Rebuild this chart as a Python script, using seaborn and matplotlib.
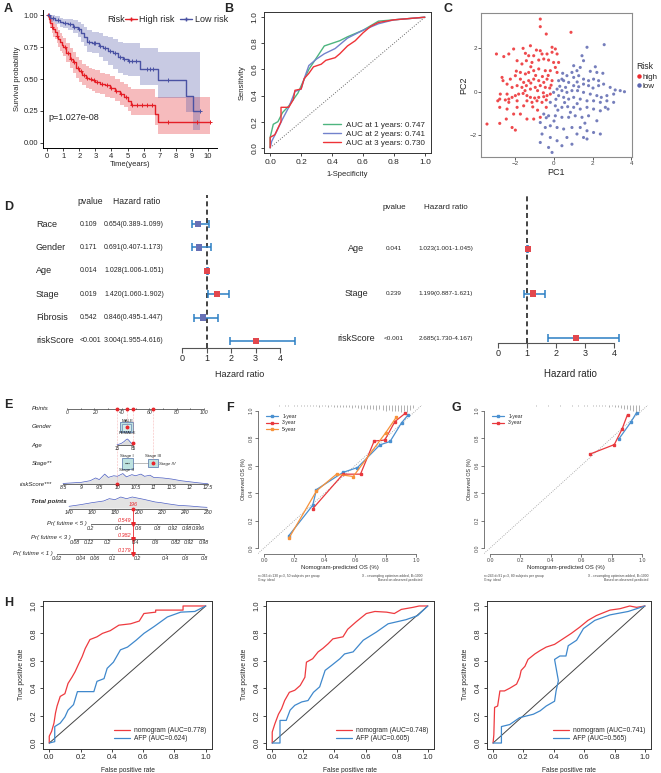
import numpy as np
import pandas as pd
import matplotlib
matplotlib.use("Agg")
import matplotlib.pyplot as plt
import matplotlib.transforms as mtransforms
from matplotlib.lines import Line2D
from matplotlib.patches import Rectangle
import seaborn as sns

sns.set_style("white")
plt.rcParams['font.family'] = ['Liberation Sans', 'DejaVu Sans']

# ===================== DATA =====================
# --- A: Kaplan-Meier ---
high_t = [0,0.1,0.2,0.3,0.4,0.5,0.6,0.7,0.8,0.9,1.0,1.2,1.4,1.6,1.8,2.0,2.2,2.4,2.6,2.8,3.0,3.3,3.6,3.9,4.2,4.5,4.8,5.0,5.2,6.7,6.9]
high_s = [1.0,0.97,0.94,0.91,0.89,0.87,0.84,0.81,0.79,0.77,0.75,0.70,0.66,0.63,0.59,0.56,0.53,0.51,0.50,0.49,0.48,0.46,0.45,0.43,0.41,0.38,0.36,0.33,0.30,0.23,0.16]
high_hi = [1.0,1.0,0.99,0.97,0.95,0.93,0.91,0.88,0.86,0.84,0.82,0.78,0.74,0.71,0.67,0.65,0.62,0.60,0.59,0.58,0.57,0.55,0.54,0.52,0.50,0.48,0.46,0.44,0.42,0.36,0.36]
high_lo = [1.0,0.94,0.90,0.86,0.83,0.81,0.78,0.75,0.72,0.70,0.68,0.63,0.59,0.55,0.51,0.48,0.45,0.43,0.42,0.41,0.39,0.38,0.36,0.35,0.33,0.30,0.28,0.25,0.22,0.14,0.07]
high_end = 10.1
high_cens = [0.05,0.3,0.6,1.1,1.3,1.5,1.7,1.9,2.1,2.3,2.5,2.7,2.9,3.1,3.4,3.7,4.0,4.3,4.6,4.9,5.3,5.6,5.9,6.2,6.5,7.5,9.3,10.1]
low_t = [0,0.2,0.5,0.8,1.0,1.3,1.6,1.9,2.1,2.3,2.5,2.8,3.2,3.5,3.8,4.1,4.4,4.7,5.0,5.8,6.9,8.6,9.05]
low_s = [1.0,0.98,0.96,0.95,0.94,0.93,0.91,0.89,0.86,0.83,0.79,0.78,0.76,0.74,0.72,0.70,0.67,0.66,0.64,0.58,0.49,0.37,0.25]
low_hi = [1.0,1.0,0.99,0.98,0.97,0.97,0.96,0.95,0.93,0.91,0.88,0.87,0.86,0.84,0.83,0.81,0.79,0.78,0.78,0.74,0.71,0.71,0.71]
low_lo = [1.0,0.95,0.93,0.91,0.90,0.88,0.86,0.83,0.79,0.76,0.71,0.70,0.67,0.64,0.61,0.58,0.55,0.53,0.52,0.45,0.35,0.24,0.10]
low_end = 9.5
low_cens = [0.1,0.4,0.7,1.1,1.4,1.7,2.0,2.6,2.9,3.0,3.3,3.6,3.9,4.2,4.5,4.8,5.1,5.3,5.5,6.2,6.4,6.6,7.5,9.5]
km_pvalue = "p=1.027e-08"

# --- B: time-dependent ROC ---
roc1_fpr = [0,0,0.02,0.05,0.08,0.12,0.15,0.18,0.21,0.25,0.30,0.35,0.40,0.45,0.50,0.60,0.70,0.80,1.0]
roc1_tpr = [0,0.08,0.18,0.20,0.27,0.32,0.37,0.42,0.50,0.60,0.69,0.78,0.80,0.82,0.85,0.90,0.97,0.98,1.0]
roc2_fpr = [0,0.01,0.04,0.08,0.12,0.16,0.20,0.22,0.25,0.30,0.35,0.42,0.50,0.60,0.70,0.80,1.0]
roc2_tpr = [0,0.05,0.12,0.22,0.31,0.43,0.45,0.53,0.63,0.68,0.72,0.76,0.84,0.90,0.95,0.98,1.0]
roc3_fpr = [0,0,0.03,0.05,0.07,0.07,0.12,0.15,0.16,0.20,0.22,0.25,0.28,0.33,0.36,0.42,0.45,0.50,0.55,0.60,0.65,0.70,0.80,0.90,1.0]
roc3_tpr = [0,0.08,0.10,0.15,0.20,0.31,0.31,0.37,0.44,0.45,0.53,0.57,0.62,0.64,0.67,0.69,0.72,0.78,0.82,0.88,0.93,0.96,0.98,0.99,1.0]
roc_labels = ["AUC at 1 years: 0.747", "AUC at 2 years: 0.741", "AUC at 3 years: 0.730"]

# --- C: PCA ---
pca_high = [(-0.71,3.35),(-0.71,3.00),(-0.40,2.66),(0.88,2.74),(-2.98,1.74),(-2.60,1.62),(-2.34,1.74),(-2.09,1.97),
            (-1.60,2.00),(-1.22,2.12),(-0.91,1.92),(-0.71,1.89),(-0.10,2.05),(0.07,1.97),(-1.48,1.77),(-1.31,1.66),
            (-1.05,1.66),(-0.62,1.74),(-0.36,1.74),(-0.10,1.82),(0.16,1.74),(-1.91,1.43),(-1.66,1.28),(-1.43,1.43),
            (-1.14,1.35),(-0.79,1.46),(-0.53,1.51),(-0.28,1.46),(-0.02,1.35),(0.24,1.35),(-2.69,0.66),(-2.64,0.51),
            (-2.43,0.35),(-2.26,0.58),(-2.00,0.74),(-1.74,0.89),(-1.48,0.82),(-1.31,0.89),(-1.05,0.97),(-0.79,1.05),
            (-0.45,0.97),(-0.19,0.97),(0.07,1.12),(0.16,0.89),(-1.74,0.58),(-1.57,0.43),(-1.31,0.51),(-1.05,0.58),
            (-0.79,0.51),(-0.53,0.43),(-0.36,0.58),(-0.10,0.51),(-2.17,0.20),(-1.91,0.28),(-1.66,0.20),(-1.43,0.28),
            (-1.22,0.12),(-0.97,0.20),(-0.71,0.28),(-0.45,0.20),(-0.22,0.17),(-2.43,-0.11),(-2.34,-0.34),(-2.17,-0.26),
            (-2.00,-0.18),(-1.83,-0.11),(-1.60,-0.08),(-1.40,-0.18),(-1.22,-0.26),(-1.00,-0.29),(-0.79,-0.26),(-0.53,-0.23),
            (-0.36,-0.18),(-0.19,-0.11),(-2.78,-0.11),(-2.81,-0.34),(-2.91,-0.42),(-2.52,-0.38),(-2.34,-0.49),(-1.91,-0.72),
            (-1.57,-0.65),(-1.40,-0.42),(-1.14,-0.49),(-0.88,-0.42),(-0.62,-0.49),(-0.40,-0.38),(-1.91,-0.42),(-2.81,-0.72),
            (-2.43,-0.80),(-2.09,-1.03),(-1.74,-1.03),(-1.40,-1.26),(-1.05,-1.26),(-0.71,-1.18),(-0.40,-0.72),(-2.47,-1.26),
            (-2.81,-1.46),(-3.47,-1.49),(-2.17,-1.65),(-2.00,-1.77),(-1.20,0.40),(-0.95,0.75),(-0.60,0.70),(-1.50,0.05),
            (-0.85,0.05),(-0.55,-0.05),(-1.10,-0.70),(-0.85,-0.85),(-1.95,0.95),(-1.20,1.15),(-0.30,0.75),(-0.15,0.30)]
pca_low = [(1.71,2.05),(2.60,2.17),(1.45,1.66),(1.53,1.43),(2.14,1.15),(1.88,0.94),(2.22,0.89),(2.53,0.85),
           (1.02,1.20),(1.19,0.97),(1.36,1.12),(0.93,0.89),(0.67,0.74),(0.41,0.58),(0.24,0.51),(0.50,0.51),
           (0.76,0.43),(1.02,0.66),(1.28,0.74),(1.53,0.58),(1.79,0.51),(2.05,0.58),(2.31,0.51),(1.02,0.28),
           (1.28,0.23),(1.53,0.35),(1.79,0.28),(2.02,0.17),(2.31,0.28),(2.57,0.35),(2.91,0.20),(3.17,0.08),
           (3.43,0.05),(3.65,0.00),(3.09,-0.11),(2.74,-0.18),(2.45,-0.26),(2.22,-0.18),(1.88,-0.11),(1.53,-0.03),
           (1.22,0.05),(0.93,0.05),(0.67,-0.03),(0.41,0.05),(0.16,0.12),(-0.02,-0.03),(0.24,-0.18),(0.50,-0.26),
           (0.76,-0.34),(1.02,-0.26),(1.36,-0.34),(1.71,-0.42),(2.05,-0.42),(2.40,-0.49),(2.74,-0.42),(3.09,-0.49),
           (-0.19,-0.49),(0.07,-0.65),(0.41,-0.72),(0.71,-0.69),(1.02,-0.72),(1.36,-0.80),(1.71,-0.72),(2.05,-0.80),
           (2.40,-0.88),(2.66,-0.72),(-0.53,-1.03),(-0.28,-1.11),(0.07,-1.11),(0.41,-1.18),(0.76,-1.18),(1.10,-1.11),
           (1.45,-1.18),(1.79,-1.11),(2.22,-1.34),(-0.71,-1.42),(-0.45,-1.65),(-0.19,-1.57),(0.16,-1.65),(0.50,-1.72),
           (0.93,-1.65),(1.36,-1.65),(1.71,-1.80),(2.05,-1.88),(2.40,-1.95),(-0.62,-1.95),(-0.19,-2.11),(0.16,-2.26),
           (0.67,-2.11),(1.19,-1.95),(1.53,-2.11),(-0.71,-2.34),(-0.28,-2.57),(-0.10,-2.80),(0.41,-2.49),(0.93,-2.42),
           (1.71,-2.18),(0.30,0.25),(0.60,0.20),(0.10,-0.35),(0.55,-0.50),(1.20,-0.55),(0.20,-0.85),(0.85,-0.95),
           (1.20,0.45),(0.45,0.85),(2.80,-0.80),(1.60,-1.45),(0.00,-1.35),(-0.40,-1.20)]

# --- D: forest plots ---
uni_vars = ["Race", "Gender", "Age", "Stage", "Fibrosis", "riskScore"]
uni_p = ["0.109", "0.171", "0.014", "0.019", "0.542", "<0.001"]
uni_hr = [0.654, 0.691, 1.028, 1.420, 0.846, 3.004]
uni_lo = [0.389, 0.407, 1.006, 1.060, 0.495, 1.955]
uni_hi = [1.099, 1.173, 1.051, 1.902, 1.447, 4.616]
multi_vars = ["Age", "Stage", "riskScore"]
multi_p = ["0.041", "0.239", "<0.001"]
multi_hr = [1.023, 1.199, 2.685]
multi_lo = [1.001, 0.887, 1.730]
multi_hi = [1.045, 1.621, 4.167]
hr_ticks = [0, 1, 2, 3, 4]

# --- E: nomogram ---
points_ticks = [0, 20, 40, 60, 80, 100]
gender_pts = {"FEMALE": 40.5, "MALE": 44.0}
age_range = [15, 85]
age_pts_range = [36.5, 48.2]
age_dens_x = [15, 25, 35, 45, 55, 60, 65, 75, 85]
age_dens_h = [0.05, 0.15, 0.30, 0.55, 0.90, 1.00, 0.85, 0.40, 0.10]
stage_pts = {"Stage I": 41.0, "Stage II": 46.0, "Stage III": 62.8, "Stage IV": 65.5}
risk_ticks = [8.5, 9, 9.5, 10, 10.5, 11, 11.5, 12, 12.5]
risk_pts_per_unit = 26.45
risk_zero = 8.61
risk_dens_x = [8.5, 8.75, 9.0, 9.25, 9.4, 9.5, 9.65, 9.75, 9.9, 10.0, 10.15, 10.25, 10.4, 10.5, 10.65, 10.75, 10.9, 11.0, 11.25, 11.5, 11.75, 12.0, 12.25, 12.5]
risk_dens_h = [0.05, 0.10, 0.15, 0.30, 0.55, 0.40, 0.90, 0.60, 0.75, 0.70, 0.95, 0.65, 0.85, 0.75, 0.90, 0.70, 0.80, 0.60, 0.55, 0.45, 0.30, 0.20, 0.10, 0.02]
total_ticks = [140, 160, 180, 200, 220, 240, 260]
total_dens_x = [140, 150, 160, 170, 175, 180, 185, 190, 195, 205, 215, 220, 225, 235, 245, 255, 260]
total_dens_h = [5, 10, 16, 21, 28, 25, 33, 28, 33, 26, 18, 16, 13, 8, 6, 3, 2]
patient = {"riskScore": 10.0, "Gender": "MALE", "Age": 85, "Stage": "Stage III"}
total_value = 196
pr_labels = ["Pr( futime < 5 )", "Pr( futime < 3 )", "Pr( futime < 1 )"]
pr_at_total = [0.549, 0.382, 0.179]
pr_ticks = [[0.2, 0.4, 0.6, 0.8, 0.92, 0.98, 0.996],
            [0.08, 0.12, 0.2, 0.4, 0.6, 0.82, 0.92, 0.98],
            [0.02, 0.04, 0.06, 0.1, 0.2, 0.4, 0.6, 0.8]]
pts_per_cloglog = 29.3

# --- F / G: calibration ---
f1_x = [0.163, 0.32, 0.345, 0.52, 0.615, 0.763, 0.83, 0.905, 0.95]
f1_y = [0.09, 0.31, 0.425, 0.55, 0.585, 0.75, 0.775, 0.91, 0.97]
f3_x = [0.32, 0.52, 0.635, 0.725, 0.795, 0.862, 0.93]
f3_y = [0.285, 0.537, 0.537, 0.778, 0.785, 0.92, 0.98]
f5_x = [0.163, 0.345, 0.477, 0.587, 0.80, 0.87]
f5_y = [0.07, 0.415, 0.537, 0.52, 0.837, 0.95]
f_rug_x = list(np.round(np.arange(0.10, 0.99, 0.02), 2))
f_rug_n = [1,0,1,1,0,2,1,1,2,1,2,2,1,3,2,2,3,2,3,3,4,3,4,4,5,4,5,6,5,6,7,6,8,7,8,9,8,10,9,10,11,10,12,8,5]
g1_x = [0.85, 0.927, 0.965]
g1_y = [0.796, 0.915, 0.985]
g3_x = [0.66, 0.818, 0.868, 0.905]
g3_y = [0.684, 0.752, 0.862, 0.97]
g_rug_x = list(np.round(np.arange(0.30, 0.99, 0.02), 2))
g_rug_n = [1,0,0,0,1,0,0,0,1,0,0,0,1,0,1,0,1,1,0,1,1,2,1,2,3,2,3,4,5,6,7,8,10,12,9]

# --- H: ROC nomogram vs AFP ---
h1_nom_fpr = [0,0,0.015,0.03,0.04,0.05,0.07,0.10,0.12,0.145,0.165,0.185,0.21,0.23,0.26,0.305,0.34,0.39,0.445,0.52,0.575,0.605,0.68,0.68,0.855,0.855,1.0]
h1_nom_tpr = [0,0.05,0.085,0.145,0.22,0.27,0.34,0.36,0.435,0.48,0.52,0.57,0.63,0.69,0.755,0.775,0.80,0.82,0.86,0.87,0.89,0.945,0.955,0.97,0.97,1.0,1.0]
h1_afp_fpr = [0,0.035,0.035,0.07,0.10,0.12,0.155,0.18,0.285,0.305,0.35,0.37,0.41,0.455,0.50,0.555,0.605,0.67,0.755,0.84,0.93,1.0]
h1_afp_tpr = [0,0.01,0.12,0.145,0.19,0.24,0.28,0.375,0.375,0.45,0.47,0.545,0.59,0.68,0.70,0.75,0.80,0.85,0.92,0.955,0.96,1.0]
h2_nom_fpr = [0,0,0.017,0.04,0.06,0.08,0.11,0.145,0.18,0.21,0.22,0.26,0.295,0.325,0.36,0.39,0.455,0.485,0.54,0.605,0.66,0.735,0.785,0.83,0.905,0.945,1.0]
h2_nom_tpr = [0,0.08,0.14,0.21,0.25,0.31,0.37,0.385,0.42,0.48,0.59,0.615,0.665,0.69,0.725,0.76,0.775,0.83,0.885,0.945,0.96,0.955,0.945,0.975,0.99,1.0,1.0]
h2_afp_fpr = [0,0.05,0.05,0.09,0.115,0.145,0.19,0.23,0.265,0.305,0.34,0.38,0.435,0.465,0.52,0.585,0.67,0.745,0.86,0.935,1.0]
h2_afp_tpr = [0,0,0.165,0.165,0.24,0.275,0.30,0.31,0.37,0.41,0.53,0.565,0.615,0.65,0.665,0.75,0.81,0.87,0.90,0.93,1.0]
h3_nom_fpr = [0,0.005,0.01,0.03,0.045,0.075,0.11,0.155,0.175,0.185,0.21,0.23,0.275,0.31,0.35,0.405,0.46,0.515,0.57,0.625,0.68,0.77,0.835,0.9,0.945,1.0]
h3_nom_tpr = [0,0.06,0.26,0.27,0.38,0.38,0.40,0.43,0.48,0.53,0.56,0.61,0.65,0.675,0.70,0.72,0.76,0.80,0.845,0.895,0.93,0.97,0.98,1.0,0.99,1.0]
h3_afp_fpr = [0,0.055,0.055,0.11,0.175,0.265,0.31,0.35,0.405,0.415,0.43,0.405,0.44,0.48,0.495,0.55,0.595,0.67,0.77,0.89,1.0]
h3_afp_tpr = [0,0,0.12,0.135,0.185,0.21,0.235,0.27,0.305,0.38,0.455,0.61,0.635,0.635,0.71,0.75,0.835,0.895,0.935,0.96,1.0]
h_auc_nom = ["0.778", "0.748", "0.741"]
h_auc_afp = ["0.624", "0.605", "0.565"]

# ===================== FIGURE =====================
W, H = 661, 773
fig = plt.figure(figsize=(W / 100, H / 100), dpi=100)


def add_ax(l, t, r, b):
    return fig.add_axes([l / W, 1 - b / H, (r - l) / W, (b - t) / H])


def ftext(x, y, s, **kw):
    return fig.text(x / W, 1 - y / H, s, **kw)


def r_yticks(ax):
    for lb in ax.get_yticklabels():
        lb.set_rotation(90)
        lb.set_va('center')


for lab, (x, y) in {"A": (4, 9), "B": (224, 9), "C": (443, 9), "D": (4, 207),
                    "E": (4, 405), "F": (226, 408), "G": (452, 408), "H": (4, 603)}.items():
    ftext(x, y, lab, fontsize=9, fontweight='bold', va='center')

# ---------------- A ----------------
RED_A, BLUE_A = '#E41E26', '#4A52A3'
axA = add_ax(43, 10, 217, 148)


def km_draw(ax, t, s, lo, hi, tend, cens, color):
    t = np.asarray(t, float); s = np.asarray(s, float)
    tt = np.append(t, tend)
    ss = np.append(s, s[-1]); ll = np.append(lo, lo[-1]); hh = np.append(hi, hi[-1])
    ax.fill_between(tt, ll, hh, step='post', color=color, alpha=0.3, lw=0)
    ax.step(tt, ss, where='post', color=color, lw=1.0)
    idx = np.searchsorted(t, cens, side='right') - 1
    ax.plot(cens, s[idx], '+', color=color, ms=3.2, mew=0.7)


km_draw(axA, high_t, high_s, high_lo, high_hi, high_end, high_cens, RED_A)
km_draw(axA, low_t, low_s, low_lo, low_hi, low_end, low_cens, BLUE_A)
axA.set_xlim(-0.25, 10.55)
axA.set_ylim(-0.04, 1.04)
axA.set_xticks(range(0, 11))
axA.set_yticks([0, 0.25, 0.5, 0.75, 1.0])
axA.set_yticklabels(["0.00", "0.25", "0.50", "0.75", "1.00"])
axA.tick_params(labelsize=5.5, length=2, width=0.6, pad=1.5, left=True, bottom=True)
for sp in ['top', 'right']:
    axA.spines[sp].set_visible(False)
for sp in ['left', 'bottom']:
    axA.spines[sp].set_linewidth(0.7); axA.spines[sp].set_color('black')
axA.set_xlabel("Time(years)", fontsize=5.5, labelpad=1)
axA.set_ylabel("Survival probability", fontsize=5.5, labelpad=2)
axA.text(0.1, 0.2, km_pvalue, fontsize=6.5, va='center')
ftext(107, 20, "Risk", fontsize=6.5, va='center')
hA = [Line2D([0], [0], color=RED_A, lw=1, marker='+', ms=3.5),
      Line2D([0], [0], color=BLUE_A, lw=1, marker='+', ms=3.5)]
fig.legend(hA, ["High risk", "Low risk"], loc='center left', bbox_to_anchor=(125 / W, 1 - 20 / H),
           ncol=2, fontsize=6.5, frameon=False, handlelength=1.3, handletextpad=0.3,
           columnspacing=0.6, borderpad=0, borderaxespad=0)

# ---------------- B ----------------
axB = add_ax(264, 12, 431, 153)
axB.plot([0, 1], [0, 1], ls=':', color='#666666', lw=0.7)
for fx, fy, c, lb in [(roc1_fpr, roc1_tpr, '#4DB57F', roc_labels[0]),
                      (roc2_fpr, roc2_tpr, '#7282CC', roc_labels[1]),
                      (roc3_fpr, roc3_tpr, '#EE3338', roc_labels[2])]:
    sns.lineplot(x=fx, y=fy, ax=axB, color=c, lw=1.0, sort=False, estimator=None, label=lb)
axB.set_xlim(-0.04, 1.04); axB.set_ylim(-0.04, 1.04)
axB.set_xticks(np.arange(0, 1.01, 0.2)); axB.set_yticks(np.arange(0, 1.01, 0.2))
axB.tick_params(labelsize=6, length=2.5, width=0.6, pad=1.5, left=True, bottom=True)
r_yticks(axB)
for sp in axB.spines.values():
    sp.set_linewidth(0.7); sp.set_color('#333333')
axB.set_xlabel("1-Specificity", fontsize=5.5, labelpad=4)
axB.set_ylabel("Sensitivity", fontsize=5.5, labelpad=4)
axB.legend(loc='lower right', fontsize=5.8, frameon=False, handlelength=2.2, handletextpad=0.6,
           labelspacing=0.15, borderaxespad=0.4)

# ---------------- C ----------------
axC = add_ax(481, 13, 632, 157)
dfC = pd.DataFrame([(x, y, 'high') for x, y in pca_high] + [(x, y, 'low') for x, y in pca_low],
                   columns=['PC1', 'PC2', 'Risk'])
palC = {'high': '#EC2A2E', 'low': '#5D67B0'}
sns.scatterplot(data=dfC, x='PC1', y='PC2', hue='Risk', palette=palC, s=5, alpha=0.85,
                linewidth=0, legend=False, ax=axC)
axC.set_xlim(-3.78, 4.04); axC.set_ylim(-3.01, 3.63)
axC.set_xticks([-2, 0, 2, 4]); axC.set_yticks([-2, 0, 2])
axC.tick_params(labelsize=4.5, length=2, width=0.6, pad=1, colors='#444444', left=True, bottom=True)
for sp in axC.spines.values():
    sp.set_linewidth(0.8); sp.set_color('#8C8C8C')
axC.set_xlabel("PC1", fontsize=6.5, labelpad=1)
axC.set_ylabel("PC2", fontsize=6.5, labelpad=1)
hC = [Line2D([0], [0], ls='', marker='o', ms=2.2, color=palC['high']),
      Line2D([0], [0], ls='', marker='o', ms=2.2, color=palC['low'])]
legC = fig.legend(hC, ['high', 'low'], title='Risk', loc='upper left', bbox_to_anchor=(636 / W, 1 - 62 / H),
                  fontsize=5.8, title_fontsize=6.2, frameon=False, handletextpad=0.0,
                  labelspacing=0.25, borderpad=0, borderaxespad=0, handlelength=0.8)
legC._legend_box.align = "left"

# ---------------- D ----------------
def forest(ax, vars_, pv, hr, lo, hi, lab_x, lab_ha, p_x, p_ha, hr_x, hr_ha, head_y,
           lab_fs, num_fs, head_fs, p_head_x, hr_head_x, head_ha):
    n = len(vars_)
    y = np.arange(n, 0, -1)
    hr = np.asarray(hr); lo = np.asarray(lo); hi = np.asarray(hi)
    ax.axvline(1, ls=(0, (3, 2)), color='#222222', lw=1.2, zorder=1)
    ax.errorbar(hr, y, xerr=[hr - lo, hi - hr], fmt='none', ecolor='#2B7FC4', elinewidth=1.1,
                capsize=2.6, capthick=1.1, zorder=2)
    cols = ['#E2474D' if v > 1 else '#6770B5' for v in hr]
    ax.scatter(hr, y, marker='s', s=20, c=cols, zorder=3, linewidths=0)
    for sp in ['top', 'right', 'left']:
        ax.spines[sp].set_visible(False)
    ax.spines['bottom'].set_bounds(0, 4)
    ax.spines['bottom'].set_color('#555555'); ax.spines['bottom'].set_linewidth(0.8)
    ax.set_xticks(hr_ticks); ax.set_yticks([])
    ax.tick_params(axis='x', labelsize=6.5, length=3.5, width=0.8, color='#555555', pad=1, bottom=True)
    ax.set_xlabel("Hazard ratio", fontsize=7, labelpad=5)
    tr = mtransforms.blended_transform_factory(fig.transFigure, ax.transData)
    for i in range(n):
        ax.text(lab_x / W, y[i], vars_[i], transform=tr, fontsize=lab_fs, ha=lab_ha, va='center')
        ax.text(p_x / W, y[i], pv[i], transform=tr, fontsize=num_fs, ha=p_ha, va='center')
        ax.text(hr_x / W, y[i], f"{hr[i]:.3f}({lo[i]:.3f}-{hi[i]:.3f})", transform=tr,
                fontsize=num_fs, ha=hr_ha, va='center')
    ax.text(p_head_x / W, head_y, "pvalue", transform=tr, fontsize=head_fs, ha=head_ha, va='center')
    ax.text(hr_head_x / W, head_y, "Hazard ratio", transform=tr, fontsize=head_fs, ha=head_ha, va='center')


axD1 = add_ax(175, 195, 305, 348)
axD1.set_xlim(-0.29, 5.02); axD1.set_ylim(0.7, 7.24)
forest(axD1, uni_vars, uni_p, uni_hr, uni_lo, uni_hi, 36, 'left', 80, 'left', 104, 'left', 6.98,
       6.5, 5, 6.2, 77, 113, 'left')
axD1.get_xaxis().label.set_fontsize(6.5)

axD2 = add_ax(490, 195, 650, 343)
axD2.set_xlim(-0.28, 5.24); axD2.set_ylim(0.89, 4.21)
forest(axD2, multi_vars, multi_p, multi_hr, multi_lo, multi_hi, 356, 'center', 394, 'center', 446, 'center',
       3.92, 6.5, 4.6, 5.8, 394, 446, 'center')
axD2.xaxis.labelpad = 8

# ---------------- E (nomogram) ----------------
axE = add_ax(0, 400, 215, 565)
axE.set_xlim(-48.9, 108.0); axE.set_ylim(565, 400); axE.axis('off')
LC = '#333333'
FS = 3.8
yP, yG, yA, yS, yR, yT = 409, 427, 445, 463, 484, 509
yPr = [524, 539, 554]
lab_kw = dict(fontsize=4.3, style='italic', va='center', ha='left', color='#222222')
axE.text(-26, yP, "Points", **lab_kw)
axE.text(-26, yG, "Gender", **lab_kw)
axE.text(-26, yA, "Age", **lab_kw)
axE.text(-26, yS, "Stage**", **lab_kw)
axE.text(-34.5, yR, "riskScore***", **lab_kw)
axE.text(-26, yT - 8, "Total points", fontsize=4.6, style='italic', fontweight='bold', va='center', ha='left')

axE.plot([0, 100], [yP, yP], color=LC, lw=0.5)
for v in range(0, 101, 10):
    axE.plot([v, v], [yP, yP - 1.2], color=LC, lw=0.4)
for v in points_ticks:
    axE.text(v, yP + 3.5, str(v), fontsize=FS, ha='center', va='center', style='italic', color=LC)

g_lo, g_hi = min(gender_pts.values()) - 2, max(gender_pts.values()) + 4
axE.add_patch(Rectangle((g_lo, yG - 5), g_hi - g_lo, 10, fc='#BDE2E0', ec='#4F6FA8', lw=0.5))
axE.add_patch(Rectangle((g_lo + 1.5, yG - 3.5), g_hi - g_lo - 3, 7, fc='#D5ECEA', ec='#4F6FA8', lw=0.4))
axE.text(gender_pts["MALE"], yG - 6.5, "MALE", fontsize=3.2, ha='center', va='center')
axE.text(gender_pts["MALE"], yG + 6.5, "FEMALE", fontsize=3.2, ha='center', va='center')

ax_age = np.interp(age_dens_x, age_range, age_pts_range)
axE.fill_between(ax_age, yA, yA - np.asarray(age_dens_h) * 6, color='#DDDDDD', lw=0)
axE.plot(ax_age, yA - np.asarray(age_dens_h) * 6, color='#4A5CC0', lw=0.5)
axE.plot(age_pts_range, [yA, yA], color=LC, lw=0.5)
for a, p in zip(age_range, age_pts_range):
    axE.text(p, yA + 3, str(a), fontsize=3.3, ha='center', va='center')

s1 = [stage_pts["Stage I"], stage_pts["Stage II"]]
s2 = [stage_pts["Stage III"], stage_pts["Stage IV"]]
axE.plot([s1[1] + 2, s2[0] - 3.5], [yS, yS], color='#888888', lw=0.4)
axE.add_patch(Rectangle((s1[0] - 1, yS - 5.5), s1[1] - s1[0] + 3, 11, fc='#BDE2E0', ec='#4F6FA8', lw=0.5))
axE.plot([s1[0] + 1.5, s1[1] - 0.5], [yS, yS], color='#222222', lw=0.8, ls=(0, (1, 0.6)))
axE.add_patch(Rectangle((s2[0] - 3.5, yS - 4), s2[1] - s2[0] + 4.2, 8, fc='#BDE2E0', ec='#4F6FA8', lw=0.5))
axE.text((s1[0] + s1[1]) / 2, yS - 7.5, "Stage I", fontsize=3.2, ha='center', va='center')
axE.text((s1[0] + s1[1]) / 2, yS + 7.5, "Stage II", fontsize=3.2, ha='center', va='center')
axE.text(s2[0], yS - 6.5, "Stage III", fontsize=3.2, ha='center', va='center')
axE.text(s2[1] + 1.5, yS + 1.5, "Stage IV", fontsize=3.2, ha='left', va='center', style='italic')


def risk_x(v):
    return (np.asarray(v, float) - risk_zero) * risk_pts_per_unit


rx = risk_x(risk_dens_x)
axE.fill_between(rx, yR, yR - np.asarray(risk_dens_h) * 11, color='#E3E3E3', lw=0)
axE.plot(rx, yR - np.asarray(risk_dens_h) * 11, color='#4A5CC0', lw=0.5)
axE.plot([risk_x(risk_ticks[0]), risk_x(risk_ticks[-1])], [yR, yR], color=LC, lw=0.5)
for v in risk_ticks:
    axE.plot([risk_x(v)] * 2, [yR, yR + 1.2], color=LC, lw=0.4)
    axE.text(risk_x(v), yR + 3.8, f"{v:g}", fontsize=FS, ha='center', va='center', style='italic')


def total_x(v):
    return 1.46 + (np.asarray(v, float) - 140) * 0.8395


tx = total_x(total_dens_x)
axE.fill_between(tx, yT - 1, yT - 1 - np.asarray(total_dens_h) / 3, color='#E3E3E3', lw=0)
axE.plot(tx, yT - 1 - np.asarray(total_dens_h) / 3, color='#4A5CC0', lw=0.5)
axE.plot([total_x(140), total_x(260)], [yT, yT], color=LC, lw=0.5)
for v in total_ticks:
    axE.plot([total_x(v)] * 2, [yT, yT + 1.2], color=LC, lw=0.4)
    axE.text(total_x(v), yT + 4, str(v), fontsize=FS, ha='center', va='center', style='italic')


def cloglog(p):
    p = np.asarray(p, float)
    return np.log(-np.log(1 - p))


for k in range(3):
    tp = total_value + pts_per_cloglog * (cloglog(pr_ticks[k]) - cloglog(pr_at_total[k]))
    xs = total_x(tp)
    y0 = yPr[k]
    axE.plot([xs[0], xs[-1]], [y0, y0], color=LC, lw=0.5)
    for xv, tv in zip(xs, pr_ticks[k]):
        axE.plot([xv, xv], [y0, y0 + 1.2], color=LC, lw=0.4)
        axE.text(xv, y0 + 4, f"{tv:g}", fontsize=FS, ha='center', va='center', style='italic')
    axE.text(xs[0] - 2.5, y0 - 1, pr_labels[k], fontsize=4.3, style='italic', ha='right', va='center')
    axE.text(total_x(total_value) - 1.5, y0 - 3.5, f"{pr_at_total[k]:.3f}", color='#E8262C',
             fontsize=4, style='italic', ha='right', va='center')
    axE.plot(total_x(total_value), y0, marker='v', color='#E8262C', ms=2.6)

pat_pts = {"riskScore": float(risk_x(patient["riskScore"])), "Gender": gender_pts[patient["Gender"]],
           "Age": float(np.interp(patient["Age"], age_range, age_pts_range)),
           "Stage": stage_pts[patient["Stage"]]}
pat_rows = {"riskScore": yR, "Gender": yG, "Age": yA - 2, "Stage": yS}
for key, p in pat_pts.items():
    axE.plot([p, p], [yP, pat_rows[key]], color='#F08080', lw=0.4, ls=':')
    axE.plot(p, yP, 'o', color='#E8262C', ms=1.8)
    axE.plot(p, pat_rows[key], 'o', color='#E8262C', ms=1.8)
xT = float(total_x(total_value))
axE.plot([xT, xT], [yT, yPr[-1] + 1], color='#E8262C', lw=0.6)
axE.plot(xT, yT, 'o', color='#E8262C', ms=1.8)
axE.text(xT, yT - 4, str(total_value), color='#E8262C', fontsize=4, ha='center', va='center', style='italic')

# ---------------- F & G (calibration) ----------------
def calib(ax, series, rug_x, rug_n, foot_l, foot_r):
    ax.plot([-0.04, 1.04], [-0.04, 1.04], ls=':', color='#999999', lw=0.6)
    for xs, ys, c, lb in series:
        ax.plot(xs, ys, color=c, lw=0.9, marker='s', ms=1.6, label=lb)
    rn = np.asarray(rug_n, float)
    ax.vlines(rug_x, 1.04 - rn * 0.0045, 1.04, color='#777777', lw=0.4)
    ax.set_xlim(-0.04, 1.04); ax.set_ylim(-0.04, 1.04)
    ax.set_xticks(np.arange(0, 1.01, 0.2)); ax.set_yticks(np.arange(0, 1.01, 0.2))
    ax.tick_params(labelsize=3.8, length=2, width=0.5, pad=1, left=True, bottom=True, colors='#444444')
    r_yticks(ax)
    for sp in ['top', 'right']:
        ax.spines[sp].set_visible(False)
    for sp in ['left', 'bottom']:
        ax.spines[sp].set_bounds(0, 1); ax.spines[sp].set_linewidth(0.5); ax.spines[sp].set_color('#444444')
    ax.set_xlabel("Nomogram-predicted OS (%)", fontsize=4.3, labelpad=2)
    ax.set_ylabel("Observed OS (%)", fontsize=3.8, labelpad=2)
    ax.legend(loc='upper left', fontsize=3.6, frameon=False, handlelength=2.5, labelspacing=0.3,
              bbox_to_anchor=(0.02, 0.97), handletextpad=0.8)
    ax.text(0.0, -0.135, foot_l, transform=ax.transAxes, fontsize=2.4, ha='left', va='top', color='#444444')
    ax.text(1.0, -0.135, foot_r, transform=ax.transAxes, fontsize=2.4, ha='right', va='top', color='#444444')


axF = add_ax(258, 405, 422, 553.5)
calib(axF, [(f1_x, f1_y, '#4A90D0', '1-year'), (f3_x, f3_y, '#E8383D', '3-year'),
            (f5_x, f5_y, '#F7923A', '5-year')], f_rug_x, f_rug_n,
      "n=365 d=130 p=3, 50 subjects per group\nGray: ideal", "X - resampling optimism added, B=1000\nBased on observed-predicted")
axG = add_ax(484, 405, 648, 553.5)
calib(axG, [(g1_x, g1_y, '#4A90D0', '1-year'), (g3_x, g3_y, '#E8383D', '3-year')], g_rug_x, g_rug_n,
      "n=243 d=91 p=3, 80 subjects per group\nGray: ideal", "X - resampling optimism added, B=1000\nBased on observed-predicted")

# ---------------- H ----------------
H_axes = [add_ax(43, 600.5, 212, 748.5), add_ax(266, 600.5, 434, 748.5), add_ax(487, 600.5, 651, 748.5)]
H_data = [(h1_nom_fpr, h1_nom_tpr, h1_afp_fpr, h1_afp_tpr),
          (h2_nom_fpr, h2_nom_tpr, h2_afp_fpr, h2_afp_tpr),
          (h3_nom_fpr, h3_nom_tpr, h3_afp_fpr, h3_afp_tpr)]
for i, ax in enumerate(H_axes):
    nf, nt, af, at = H_data[i]
    ax.plot([0, 1], [0, 1], color='#444444', lw=0.7)
    sns.lineplot(x=nf, y=nt, ax=ax, color='#EE3A3F', lw=0.9, sort=False, estimator=None,
                 label=f"nomogram (AUC={h_auc_nom[i]})")
    sns.lineplot(x=af, y=at, ax=ax, color='#3F88CC', lw=0.9, sort=False, estimator=None,
                 label=f"AFP (AUC={h_auc_afp[i]})")
    ax.set_xlim(-0.04, 1.04); ax.set_ylim(-0.04, 1.04)
    ax.set_xticks(np.arange(0, 1.01, 0.2)); ax.set_yticks(np.arange(0, 1.01, 0.2))
    ax.tick_params(labelsize=5.5, length=2.5, width=0.6, pad=1.5, left=True, bottom=True)
    r_yticks(ax)
    for sp in ax.spines.values():
        sp.set_linewidth(0.7); sp.set_color('#333333')
    ax.set_xlabel("False positive rate", fontsize=4.8, labelpad=4)
    ax.set_ylabel("True positive rate", fontsize=4.8, labelpad=4)
    ax.legend(loc='lower right', fontsize=4.8, frameon=False, handlelength=2.4, handletextpad=0.6,
              labelspacing=0.15, borderaxespad=0.5)

fig.savefig("out.png", dpi=100)
